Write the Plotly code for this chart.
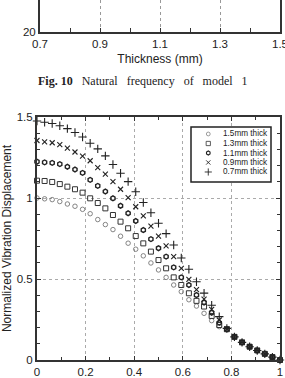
import plotly.graph_objects as go

# ---- data ----
position = [0, 0.0313, 0.0625, 0.0938, 0.125, 0.1563, 0.1875, 0.2188, 0.25, 0.2813,
            0.3125, 0.3438, 0.375, 0.4063, 0.4375, 0.4688, 0.5, 0.5313, 0.5625, 0.5938,
            0.625, 0.6563, 0.6875, 0.7188, 0.75, 0.7813, 0.8125, 0.8438, 0.875, 0.9063,
            0.9375, 0.9688, 1.0]

t15 = [1.000, 0.995, 0.990, 0.978, 0.963, 0.949, 0.930, 0.903, 0.867, 0.836,
       0.805, 0.764, 0.721, 0.684, 0.643, 0.599, 0.556, 0.510, 0.463, 0.422,
       0.372, 0.333, 0.288, 0.243, 0.206, 0.188, 0.143, 0.109, 0.082, 0.059,
       0.038, 0.018, 0.0]
t13 = [1.107, 1.105, 1.099, 1.086, 1.070, 1.054, 1.033, 0.998, 0.969, 0.936,
       0.895, 0.854, 0.813, 0.765, 0.720, 0.669, 0.617, 0.566, 0.510, 0.463,
       0.412, 0.365, 0.330, 0.272, 0.216, 0.190, 0.143, 0.109, 0.082, 0.059,
       0.038, 0.018, 0.0]
t11 = [1.224, 1.220, 1.217, 1.209, 1.193, 1.176, 1.155, 1.112, 1.075, 1.040,
       0.998, 0.952, 0.906, 0.858, 0.802, 0.746, 0.690, 0.638, 0.572, 0.510,
       0.463, 0.401, 0.354, 0.292, 0.230, 0.190, 0.143, 0.109, 0.082, 0.059,
       0.038, 0.018, 0.0]
t09 = [1.355, 1.347, 1.341, 1.329, 1.308, 1.284, 1.259, 1.230, 1.188, 1.147,
       1.101, 1.054, 1.002, 0.946, 0.889, 0.827, 0.764, 0.704, 0.638, 0.566,
       0.498, 0.434, 0.376, 0.312, 0.247, 0.192, 0.143, 0.109, 0.082, 0.059,
       0.038, 0.018, 0.0]
t07 = [1.475, 1.468, 1.460, 1.446, 1.428, 1.404, 1.377, 1.338, 1.303, 1.260,
       1.207, 1.153, 1.101, 1.039, 0.972, 0.909, 0.844, 0.780, 0.710, 0.630,
       0.560, 0.483, 0.413, 0.338, 0.268, 0.195, 0.143, 0.109, 0.082, 0.059,
       0.038, 0.018, 0.0]

series_names = ["1.5mm thick", "1.3mm thick", "1.1mm thick", "0.9mm thick", "0.7mm thick"]
series_values = [t15, t13, t11, t09, t07]

top_ticks = [0.7, 0.9, 1.1, 1.3, 1.5]
top_tick_text = ["0.7", "0.9", "1.1", "1.3", "1.5"]
caption = "<b>Fig. 10</b>&nbsp;&nbsp; Natural&nbsp;&nbsp; frequency&nbsp;&nbsp; of&nbsp;&nbsp; model&nbsp;&nbsp; 1"

# ---- styles ----
styles = [
    dict(symbol="circle-open", size=4.5, color="#777", lw=0.9),
    dict(symbol="square-open", size=5, color="#333", lw=1.0),
    dict(symbol="hexagon-open", size=4.8, color="#222", lw=1.4),
    dict(symbol="x-thin-open", size=5, color="#222", lw=1.1),
    dict(symbol="cross-thin-open", size=6, color="#222", lw=1.1),
]

W, H = 285, 378
def px_x(p): return p / W
def px_y(p): return 1 - p / H

fig = go.Figure()
for name, vals, st in zip(series_names, series_values, styles):
    fig.add_trace(go.Scatter(
        x=position, y=vals, mode="markers", name=name, showlegend=False,
        cliponaxis=False,
        marker=dict(symbol=st["symbol"], size=st["size"], color=st["color"],
                    line=dict(color=st["color"], width=st["lw"])),
        xaxis="x", yaxis="y"))

# top partial chart (Fig. 10) placeholder trace
fig.add_trace(go.Scatter(x=[1.0], y=[40], mode="markers", marker=dict(opacity=0),
                         xaxis="x2", yaxis="y2", showlegend=False, hoverinfo="skip"))

# legend markers on helper axis
leg_rows = [0.873, 0.70, 0.527, 0.355, 0.182]
for name, st, ry in zip(series_names, styles, leg_rows):
    fig.add_trace(go.Scatter(
        x=[0.216], y=[ry], mode="markers", showlegend=False, xaxis="x3", yaxis="y3",
        marker=dict(symbol=st["symbol"], size=st["size"] * 0.85, color=st["color"],
                    line=dict(color=st["color"], width=st["lw"] * 0.8))))

font = dict(family="Liberation Sans, Arial, sans-serif", size=11, color="#222")
axis_common = dict(
    showline=True, linewidth=2, linecolor="#333", mirror="ticks",
    ticks="inside", ticklen=4, tickwidth=1, tickcolor="#333",
    showgrid=True, gridcolor="#aaa", griddash="dot", gridwidth=1,
    zeroline=False, tickfont=dict(size=11.5, color="#222"),
    automargin=False, ticklabeloverflow="allow",
)

layout = dict(
    width=W, height=H, margin=dict(l=0, r=0, t=0, b=0, autoexpand=False),
    paper_bgcolor="white", plot_bgcolor="white", font=font, showlegend=False,
    xaxis=dict(domain=[px_x(37), px_x(280)], range=[0, 1], dtick=0.2, anchor="y",
               minor=dict(dtick=0.1, ticks="inside", ticklen=3, tickcolor="#333", showgrid=False),
               **axis_common),
    yaxis=dict(domain=[px_y(360), px_y(117)], range=[0, 1.5], dtick=0.5, anchor="x",
               minor=dict(dtick=0.1, ticks="inside", ticklen=3, tickcolor="#333", showgrid=False),
               title=dict(text="Normalized Vibration Displacement", font=dict(size=12), standoff=6),
               **axis_common),
    xaxis2=dict(domain=[px_x(40), px_x(280)], range=[0.7, 1.5], tickvals=top_ticks,
                ticktext=top_tick_text, anchor="y2",
                showline=True, linewidth=2, linecolor="#333", mirror=False,
                ticks="inside", ticklen=4, tickcolor="#333",
                minor=dict(tickvals=[0.8, 1.0, 1.2, 1.4], ticks="inside", ticklen=4,
                           tickcolor="#333", showgrid=False),
                showgrid=True, gridcolor="#999", griddash="dot", gridwidth=1, zeroline=False,
                tickfont=dict(size=11.5, color="#222"), automargin=False,
                ticklabeloverflow="allow",
                title=dict(text="Thickness (mm)", font=dict(size=12), standoff=6)),
    yaxis2=dict(domain=[px_y(32), 1], range=[20, 30], tickvals=[20], ticktext=["20"], anchor="x2",
                showline=True, linewidth=2, linecolor="#333", mirror=True,
                ticks="", showgrid=False, zeroline=False, automargin=False,
                ticklabeloverflow="allow",
                tickfont=dict(size=11.5, color="#222")),
    xaxis3=dict(domain=[px_x(191), px_x(271)], range=[0, 1], visible=False, anchor="y3"),
    yaxis3=dict(domain=[px_y(182), px_y(127)], range=[0, 1], visible=False, anchor="x3"),
    shapes=[dict(type="rect", xref="paper", yref="paper",
                 x0=px_x(191), x1=px_x(271), y0=px_y(182), y1=px_y(127),
                 line=dict(color="#222", width=1.5), fillcolor="rgba(0,0,0,0)", layer="above")],
    annotations=[dict(x=0.37, y=ry, xref="x3", yref="y3", text=name, showarrow=False,
                      xanchor="left", yanchor="middle", font=dict(size=8.2, color="#222"))
                 for name, ry in zip(series_names, leg_rows)] + [
        dict(x=px_x(143), y=px_y(81), xref="paper", yref="paper", text=caption,
             showarrow=False, xanchor="center", yanchor="middle",
             font=dict(family="Liberation Serif, Times New Roman, serif", size=12, color="#222"))],
)
fig.update_layout(**layout)
fig.write_html("out.html")
